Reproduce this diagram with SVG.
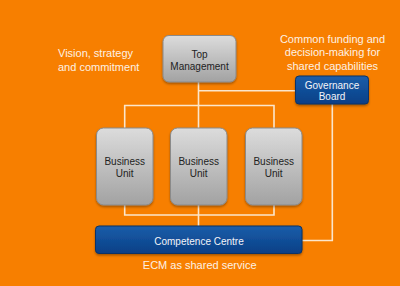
<svg xmlns="http://www.w3.org/2000/svg" width="400" height="286" viewBox="0 0 400 286">
<defs>
<linearGradient id="grey" x1="0" y1="0" x2="0" y2="1">
<stop offset="0" stop-color="#dcdcdc"/>
<stop offset="1" stop-color="#a2a2a2"/>
</linearGradient>
<linearGradient id="blue" x1="0" y1="0" x2="0" y2="1">
<stop offset="0" stop-color="#1d5eaa"/>
<stop offset="1" stop-color="#063f86"/>
</linearGradient>
<filter id="sh" x="-20%" y="-20%" width="140%" height="140%">
<feDropShadow dx="0" dy="1.5" stdDeviation="1.2" flood-color="#000" flood-opacity="0.35"/>
</filter>
</defs>
<style>
.g{fill:url(#grey);stroke:#8a8a8a;stroke-width:1;filter:url(#sh)}
.b{fill:url(#blue);stroke:#0a3366;stroke-width:1;filter:url(#sh)}
.dt{font-family:"Liberation Sans",Arial,sans-serif;font-size:10px;fill:#222;text-anchor:middle}
.wt{font-family:"Liberation Sans",Arial,sans-serif;font-size:10px;fill:#f4f4f8;text-anchor:middle}
.lab{font-family:"Liberation Sans",Arial,sans-serif;font-size:11px;fill:#fdf1e4}
.ln{fill:none;stroke:#fbe6cc;stroke-width:1.6}
</style>
<rect x="0" y="0" width="400" height="286" fill="#f77f00"/>
<g id="connectors">
<path class="ln" d="M198.5 82 V226"/>
<path class="ln" d="M198.5 90.7 H296"/>
<path class="ln" d="M124.7 128 V105.5 H274 V128"/>
<path class="ln" d="M124.7 205 V215 H274 V205"/>
<path class="ln" d="M302 240.5 H332.3 V104"/>
</g>
<g id="top-management">
<rect class="g" x="163" y="35.5" width="73" height="46.5" rx="6"/>
<text class="dt" x="199.5" y="57.5">Top</text>
<text class="dt" x="199.5" y="69.5">Management</text>
</g>
<g id="governance-board">
<rect class="b" x="295.5" y="76" width="73" height="28" rx="3.5"/>
<text class="wt" x="332" y="88.5">Governance</text>
<text class="wt" x="332" y="100">Board</text>
</g>
<g id="business-unit-1">
<rect class="g" x="96.5" y="128" width="56.5" height="77" rx="7"/>
<text class="dt" x="124.7" y="165">Business</text>
<text class="dt" x="124.7" y="177">Unit</text>
</g>
<g id="business-unit-2">
<rect class="g" x="170.5" y="128" width="56.5" height="77" rx="7"/>
<text class="dt" x="198.7" y="165">Business</text>
<text class="dt" x="198.7" y="177">Unit</text>
</g>
<g id="business-unit-3">
<rect class="g" x="245.5" y="128" width="56.5" height="77" rx="7"/>
<text class="dt" x="273.7" y="165">Business</text>
<text class="dt" x="273.7" y="177">Unit</text>
</g>
<g id="competence-centre">
<rect class="b" x="95.5" y="226" width="206.5" height="27.5" rx="3.5"/>
<text class="wt" x="199" y="244.5">Competence Centre</text>
</g>
<g id="labels">
<text class="lab" x="58" y="57">Vision, strategy</text>
<text class="lab" x="58" y="70.5">and commitment</text>
<text class="lab" x="332.5" y="43" text-anchor="middle">Common funding and</text>
<text class="lab" x="332.5" y="56" text-anchor="middle">decision-making for</text>
<text class="lab" x="332.5" y="69.5" text-anchor="middle">shared capabilities</text>
<text class="lab" x="199.7" y="269" text-anchor="middle">ECM as shared service</text>
</g>
</svg>
